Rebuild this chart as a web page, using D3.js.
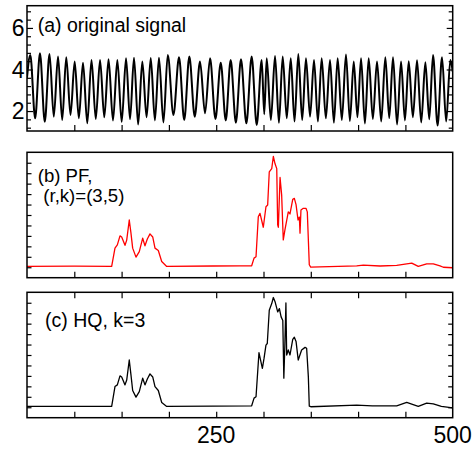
<!DOCTYPE html>
<html><head><meta charset="utf-8">
<script src="https://cdn.jsdelivr.net/npm/d3@7"></script>
<style>
html,body{margin:0;padding:0;background:#fff;}
text{font-family:"Liberation Sans",Arial,Helvetica,sans-serif;}
</style></head>
<body><svg id="chart" width="473" height="450"></svg>
<script>
// ---- data ----
const xDomain = [50, 500];
const xTickValues = [100, 150, 200, 250, 300, 350, 400, 450];
const xTickLabels = [250, 500];
const aYLabels = [2, 4, 6];

// (a) original signal: peaks and troughs
const peakX = [53.5,63.7,73.8,82.8,91.5,100.4,109.2,118.2,127.2,136.2,145.5,154.7,163.1,171.9,180.8,189.5,198.8,
  210.7,221.6,232.9,243.5,254.8,265.3,276.2,287.5,298.1,
  303.4,312.2,320.3,328.8,336.8,344.9,353.4,361.5,370.3,378.4,387.2,395.4,403.1,411.2,420.0,428.8,436.9,445.4,453.5,462.3,471.1,479.2,488.7,497.5];
const peakV = [4.70,4.78,4.75,4.62,4.59,4.38,4.33,4.46,4.46,4.49,4.46,4.54,4.57,4.38,4.55,4.57,4.70,
  4.59,4.62,4.38,4.54,4.33,4.46,4.49,4.62,4.46,
  4.54,4.65,4.62,4.54,4.75,4.54,4.46,4.54,4.46,4.54,4.72,4.38,4.54,4.54,4.38,4.59,4.59,4.38,4.40,4.45,4.35,4.70,4.59,4.46];
const troughX = [58.6,68.8,78.3,87.2,96.0,104.8,113.7,122.7,131.7,140.9,150.1,158.9,167.5,176.4,185.2,194.2,204.8,
  216.2,227.3,238.2,249.2,260.1,270.8,281.9,292.8,300.8,307.8,316.3,324.6,332.8,340.9,349.2,357.5,365.9,374.4,
  382.8,391.3,399.3,407.2,415.6,424.4,432.9,441.2,449.5,457.9,466.7,475.2,484.0,493.1];
const troughV = [1.65,1.48,1.73,1.57,1.81,1.65,1.41,1.62,1.70,1.55,1.48,1.60,1.35,1.70,1.55,1.45,1.81,1.57,1.73,
  1.89,1.62,1.55,1.44,1.41,1.33,1.85,1.57,1.44,1.65,1.50,1.57,1.73,1.50,1.65,1.44,1.57,1.52,1.70,1.40,1.62,1.50,
  1.66,1.35,1.55,1.70,1.45,1.60,1.30,1.50];
const signalStart = [50, 3.6];
const signalEnd = [500, 3.9];

// (b) PF, (r,k)=(3,5)
const pfX = [50,100,139.5,143,145.5,148.3,150.1,153.6,155.4,158.1,159.9,161.7,165.2,168.7,172.3,174.7,177.2,180,182.9,185.3,188.8,192.4,197.7,
  246.6,275,287.5,290,292.1,294.5,296.3,299.8,302.6,304.4,306.1,308.7,310.4,312.2,314.0,315.0,315.7,317.5,319.2,320.9,322.7,326.2,328.0,
  330.9,332.6,334.4,336.5,337.9,338.6,339.6,342.1,344.9,346.3,348.4,349.9,398.5,405.5,423.2,440.8,451.4,456.7,463.6,472.5,479.5,486.6,490.1,500];
const pfV = [0.08,0.10,0.08,1.83,2.14,3.0,2.9,2.1,2.6,4.52,3.26,1.83,0.97,1.5,2.78,2.05,2.7,3.19,2.9,1.83,1.6,0.55,0.08,
  0.12,0.14,0.14,0.87,1.0,4.84,5.16,3.83,5.79,5.95,9.13,9.44,10.6,9.9,9.44,4.05,3.83,8.59,6.9,2.62,3.6,5.3,5.1,
  6.5,6.59,6.0,4.52,4.8,3.26,5.48,5.64,5.64,5.3,0.24,0.02,0.14,0.2,0.12,0.18,0.33,0.4,0.08,0.33,0.33,0.14,0.0,-0.05];

// (c) HQ, k=3
const hqX = [50,139.5,143,145.5,148.3,150.1,153.6,155.4,158.1,159.9,161.7,165.2,168.7,172.3,174.7,177.2,180,182.9,185.3,188.8,192.4,197.7,
  246.6,287.5,290,292.1,295.2,298.8,300.6,302.6,304.0,306.1,308.7,310.4,312.2,315.0,316.8,318.6,320.4,321.5,322.6,323.7,324.5,326.2,328.0,
  330.9,332.6,334.4,336.7,340.3,343.9,345.6,347.4,348.4,350,398.5,415,440.8,451.4,456.7,463.6,472.5,479.5,488,500];
const hqV = [0.08,0.08,1.98,2.14,3.0,2.9,2.14,2.6,4.52,3.1,1.6,0.97,1.5,2.78,2.14,2.7,3.19,2.9,1.98,1.6,0.45,0.08,
  0.1,0.14,0.87,1.0,5.22,3.73,4.7,5.95,6.1,9.29,9.92,10.5,10.1,9.12,9.44,8.65,8.3,2.78,6.0,9.98,5.0,5.48,5.0,
  6.5,6.7,6.3,4.52,5.48,5.73,5.64,2.93,0.1,0.05,0.21,0.14,0.14,0.46,0.3,0.08,0.4,0.33,0.08,-0.05];

// ---- layout ----
const svg = d3.select("#chart");
const L = 27, R = 452.7;
const panels = [
  {id:"a", top:5.7, bottom:131, domain:[1.04,7.07]},
  {id:"b", top:152.3, bottom:277.7, domain:[-1,11]},
  {id:"c", top:292.3, bottom:417.7, domain:[-1,11]}
];
const x = d3.scaleLinear().domain(xDomain).range([L, R]);
const FS_TICK = 23, FS_LBL = 19.5;

const defs = svg.append("defs");
panels.forEach(p => {
  p.y = d3.scaleLinear().domain(p.domain).range([p.bottom, p.top]);
  defs.append("clipPath").attr("id","clip-"+p.id)
    .append("rect").attr("x",L).attr("y",p.top).attr("width",R-L).attr("height",p.bottom-p.top);
});

function tickAxis(gen, pos, size, vals, fmt){
  const g = svg.append("g").attr("transform", pos)
    .call(gen.tickValues(vals).tickSize(size).tickFormat(fmt || (()=>"")));
  g.select(".domain").remove();
  g.selectAll("line").attr("stroke","#000").attr("stroke-width",1.2);
  return g;
}

// Panel a
const pa = panels[0];
const aMinor = d3.range(1.2, 7.0, 0.4).map(v => +v.toFixed(1)).filter(v => aYLabels.indexOf(v) < 0);
tickAxis(d3.axisLeft(pa.y), `translate(${L},0)`, -6, aYLabels);
tickAxis(d3.axisLeft(pa.y), `translate(${L},0)`, -4, aMinor);
tickAxis(d3.axisRight(pa.y), `translate(${R},0)`, -6, aYLabels);
tickAxis(d3.axisRight(pa.y), `translate(${R},0)`, -4, aMinor);
tickAxis(d3.axisBottom(x), `translate(0,${pa.bottom})`, -6, xTickValues);
svg.append("g").selectAll("text").data(aYLabels).join("text")
  .attr("x", L-2.5).attr("y", d => pa.y(d)).attr("dy","0.35em")
  .attr("text-anchor","end").attr("font-size",FS_TICK).text(d => d);

const sig = [signalStart]
  .concat(peakX.map((d,i)=>[d,peakV[i]]))
  .concat(troughX.map((d,i)=>[d,troughV[i]]))
  .concat([signalEnd])
  .sort((a,b)=>a[0]-b[0]);
svg.append("path").datum(sig).attr("clip-path","url(#clip-a)")
  .attr("fill","none").attr("stroke","#000").attr("stroke-width",2)
  .attr("d", d3.line().x(d=>x(d[0])).y(d=>pa.y(d[1])).curve(d3.curveMonotoneX));

// Panel b
const pb = panels[1];
const bcY = d3.range(0, 11, 1);
tickAxis(d3.axisLeft(pb.y), `translate(${L},0)`, -4.5, bcY);
tickAxis(d3.axisBottom(x), `translate(0,${pb.bottom})`, -6, xTickValues);
svg.append("path").datum(pfX.map((d,i)=>[d,pfV[i]])).attr("clip-path","url(#clip-b)")
  .attr("fill","none").attr("stroke","#ff0000").attr("stroke-width",1.3).attr("stroke-linejoin","round")
  .attr("d", d3.line().x(d=>x(d[0])).y(d=>pb.y(d[1])));

// Panel c
const pc = panels[2];
tickAxis(d3.axisLeft(pc.y), `translate(${L},0)`, -4.5, bcY);
tickAxis(d3.axisRight(pc.y), `translate(${R},0)`, -4.5, bcY);
tickAxis(d3.axisTop(x), `translate(0,${pc.top})`, -6, xTickValues);
tickAxis(d3.axisBottom(x), `translate(0,${pc.bottom})`, -6, xTickValues);
svg.append("path").datum(hqX.map((d,i)=>[d,hqV[i]])).attr("clip-path","url(#clip-c)")
  .attr("fill","none").attr("stroke","#000").attr("stroke-width",1.3).attr("stroke-linejoin","round")
  .attr("d", d3.line().x(d=>x(d[0])).y(d=>pc.y(d[1])));
svg.append("g").selectAll("text").data(xTickLabels).join("text")
  .attr("x", d => x(d)).attr("y", 443).attr("text-anchor","middle")
  .attr("font-size",FS_TICK).text(d => d);

// frames
panels.forEach(p => {
  svg.append("rect").attr("x",L).attr("y",p.top).attr("width",R-L).attr("height",p.bottom-p.top)
    .attr("fill","none").attr("stroke","#000").attr("stroke-width",1.5);
});

// panel labels
svg.append("text").attr("x",37.7).attr("y",32.3).attr("font-size",FS_LBL).text("(a) original signal");
svg.append("text").attr("x",37.7).attr("y",181.6).attr("font-size",18.6).text("(b) PF,");
svg.append("text").attr("x",43.3).attr("y",202.4).attr("font-size",18.6).text("(r,k)=(3,5)");
svg.append("text").attr("x",45).attr("y",326.7).attr("font-size",FS_LBL).text("(c) HQ, k=3");
</script></body></html>
